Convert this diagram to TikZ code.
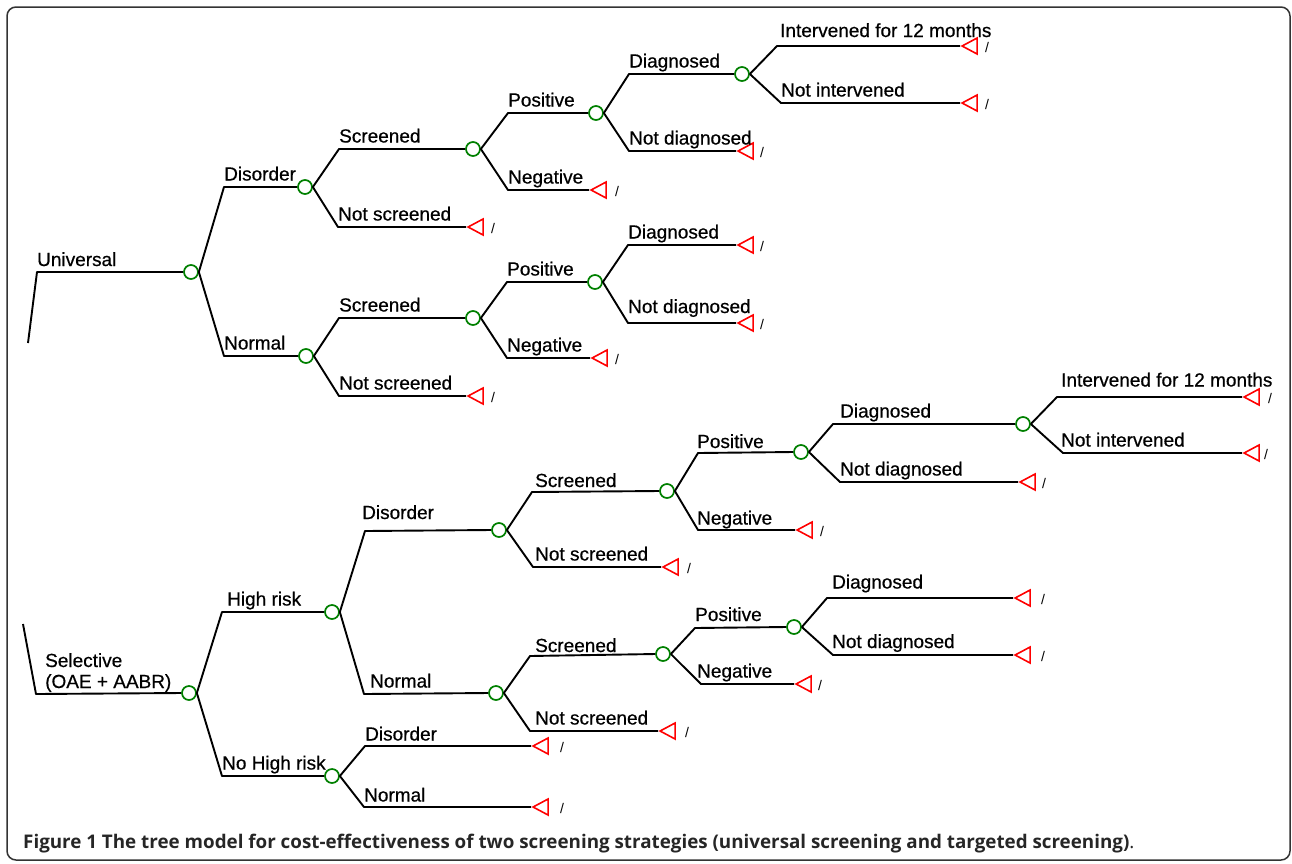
\documentclass[tikz,border=0pt]{standalone}
\usepackage{fontspec}
\setmainfont{Liberation Sans}
\newfontfamily\lblfont[FakeBold=0.6]{Liberation Sans}
\newfontfamily\capfont{Open Sans}
\usetikzlibrary{shapes.geometric}
\tikzset{
  chance/.style = {circle, draw=green!50!black, line width=1.7pt, inner sep=0pt, minimum size=14pt},
  terminal/.style = {isosceles triangle, isosceles triangle stretches, shape border rotate=180,
    draw=red, line width=1.6pt, inner sep=0pt, minimum width=16pt, minimum height=15pt, anchor=apex},
  branch/.style = {line width=1.9pt, line join=round},
  lbl/.style = {anchor=base west, inner sep=0pt, font=\lblfont\fontsize{19pt}{22pt}\selectfont},
  slash/.style = {inner sep=0pt, font=\fontsize{14pt}{15pt}\selectfont},
}

\begin{document}
\begin{tikzpicture}[x=1pt, y=-1pt]
\useasboundingbox (0,0) rectangle (1292,863);
\draw[rounded corners=9pt, line width=1.5pt, black!80] (7,7) rectangle (1290,860);

% universal strategy
\begin{scope}
  \coordinate (u0) at (28,343);
  \coordinate (u1) at (37,272);
  \node[chance] (U) at (191,272) {};
  \node[lbl] (lU) at (37,266) {Universal};
  \draw[branch] (u0) -- (u1) -- (U.west);

  % disorder / normal
  \node[chance] (UD) at (305,187) {};
  \node[chance] (UN) at (306,356) {};
  \draw[branch] (U.east) -- (224,187) -- (UD.west);
  \draw[branch] (U.east) -- (224,356) -- (UN.west);
  \node[lbl] (lUD) at (224,180.5) {Disorder};
  \node[lbl] (lUN) at (224,349.5) {Normal};

  % disorder -> screened / not screened
  \node[chance] (UDS) at (473,149) {};
  \node[terminal] (tUDn) at (466,227) {};
  \node[slash] (xUDn) at (493,228) {/};
  \draw[branch] (UD.east) -- (339,149) -- (UDS.west);
  \draw[branch] (UD.east) -- (338,227) -- (tUDn.apex);
  \node[lbl] (lUDS) at (339,142.5) {Screened};
  \node[lbl] (lUDn) at (338,220.5) {Not screened};

  \node[chance] (UDSP) at (596,113) {};
  \node[terminal] (tUDSn) at (589,190) {};
  \node[slash] (xUDSn) at (617,191) {/};
  \draw[branch] (UDS.east) -- (508,113) -- (UDSP.west);
  \draw[branch] (UDS.east) -- (508,190) -- (tUDSn.apex);
  \node[lbl] (lUDSP) at (508,106.5) {Positive};
  \node[lbl] (lUDSn) at (508,183.5) {Negative};

  \node[chance] (UDSPD) at (742,74) {};
  \node[terminal] (tUDSPn) at (736,151) {};
  \node[slash] (xUDSPn) at (762,152) {/};
  \draw[branch] (UDSP.east) -- (629,74) -- (UDSPD.west);
  \draw[branch] (UDSP.east) -- (629,151) -- (tUDSPn.apex);
  \node[lbl] (lUDSPD) at (629,67.5) {Diagnosed};
  \node[lbl] (lUDSPn) at (629,144.5) {Not diagnosed};

  \node[terminal] (tUI) at (960,46) {};
  \node[terminal] (tUNI) at (960,103) {};
  \node[slash] (xUI) at (987,47) {/};
  \node[slash] (xUNI) at (987,104) {/};
  \draw[branch] (UDSPD.east) -- (777,46) -- (tUI.apex);
  \draw[branch] (UDSPD.east) -- (781,103) -- (tUNI.apex);
  \node[lbl] (lUI) at (780,37) {Intervened for 12 months};
  \node[lbl] (lUNI) at (781,96.5) {Not intervened};

  % normal -> screened / not screened
  \node[chance] (UNS) at (473,318) {};
  \node[terminal] (tUNn) at (466,396) {};
  \node[slash] (xUNn) at (493,397) {/};
  \draw[branch] (UN.east) -- (339,318) -- (UNS.west);
  \draw[branch] (UN.east) -- (339,396) -- (tUNn.apex);
  \node[lbl] (lUNS) at (339,311.5) {Screened};
  \node[lbl] (lUNn) at (339,389.5) {Not screened};

  \node[chance] (UNSP) at (595,282) {};
  \node[terminal] (tUNSn) at (590,358) {};
  \node[slash] (xUNSn) at (617,359) {/};
  \draw[branch] (UNS.east) -- (507,282) -- (UNSP.west);
  \draw[branch] (UNS.east) -- (507,358) -- (tUNSn.apex);
  \node[lbl] (lUNSP) at (507,275.5) {Positive};
  \node[lbl] (lUNSn) at (507,351.5) {Negative};

  \node[terminal] (tUNSPd) at (736,245) {};
  \node[terminal] (tUNSPn) at (736,323) {};
  \node[slash] (xUNSPd) at (762,246) {/};
  \node[slash] (xUNSPn) at (762,324) {/};
  \draw[branch] (UNSP.east) -- (628,245) -- (tUNSPd.apex);
  \draw[branch] (UNSP.east) -- (628,323) -- (tUNSPn.apex);
  \node[lbl] (lUNSPd) at (628,238.5) {Diagnosed};
  \node[lbl] (lUNSPn) at (628,313) {Not diagnosed};
\end{scope}

% selective strategy
\begin{scope}
  \coordinate (s0) at (23,624);
  \coordinate (s1) at (36,694);
  \node[chance] (S) at (189,693) {};
  \node[lbl] (lS) at (45,667) {Selective};
  \node[lbl] (lS2) at (45,688) {(OAE + AABR)};
  \draw[branch] (s0) -- (s1) -- (S.west);

  % high risk / no high risk
  \node[chance] (SH) at (332,612) {};
  \node[chance] (SN) at (332,776) {};
  \draw[branch] (S.east) -- (222,612) -- (SH.west);
  \draw[branch] (S.east) -- (222,776) -- (SN.west);
  \node[lbl] (lSH) at (227,605.5) {High risk};
  \node[lbl] (lSN) at (222,769.5) {No High risk};

  % high risk -> disorder / normal
  \node[chance] (SHD) at (499,530) {};
  \node[chance] (SHN) at (496,693) {};
  \draw[branch] (SH.east) -- (365,531) -- (SHD.west);
  \draw[branch] (SH.east) -- (364,694) -- (SHN.west);
  \node[lbl] (lSHD) at (362,519) {Disorder};
  \node[lbl] (lSHN) at (370,687.5) {Normal};

  \node[chance] (SHDS) at (667,491) {};
  \node[terminal] (tSHDn) at (661,567) {};
  \node[slash] (xSHDn) at (689,568) {/};
  \draw[branch] (SHD.east) -- (532,492) -- (SHDS.west);
  \draw[branch] (SHD.east) -- (533,567) -- (tSHDn.apex);
  \node[lbl] (lSHDS) at (535,487) {Screened};
  \node[lbl] (lSHDn) at (535,560.5) {Not screened};

  \node[chance] (SHDSP) at (801,452) {};
  \node[terminal] (tSHDSn) at (795,530) {};
  \node[slash] (xSHDSn) at (822,531) {/};
  \draw[branch] (SHDS.east) -- (698,453) -- (SHDSP.west);
  \draw[branch] (SHDS.east) -- (698,530) -- (tSHDSn.apex);
  \node[lbl] (lSHDSP) at (697,448) {Positive};
  \node[lbl] (lSHDSn) at (697,524.5) {Negative};

  \node[chance] (SHDSPD) at (1023,424) {};
  \node[terminal] (tSHDSPn) at (1018,482) {};
  \node[slash] (xSHDSPn) at (1044,483) {/};
  \draw[branch] (SHDSP.east) -- (833,424) -- (SHDSPD.west);
  \draw[branch] (SHDSP.east) -- (840,482) -- (tSHDSPn.apex);
  \node[lbl] (lSHDSPD) at (840,417.5) {Diagnosed};
  \node[lbl] (lSHDSPn) at (840,475.5) {Not diagnosed};

  \node[terminal] (tSI) at (1242,397) {};
  \node[terminal] (tSNI) at (1242,453) {};
  \node[slash] (xSI) at (1270,398) {/};
  \node[slash] (xSNI) at (1266,454) {/};
  \draw[branch] (SHDSPD.east) -- (1057,397) -- (tSI.apex);
  \draw[branch] (SHDSPD.east) -- (1063,453) -- (tSNI.apex);
  \node[lbl] (lSI) at (1061,386.5) {Intervened for 12 months};
  \node[lbl] (lSNI) at (1061,446.5) {Not intervened};

  % high risk -> normal -> screened / not screened
  \node[chance] (SHNS) at (663,654) {};
  \node[terminal] (tSHNn) at (658,731) {};
  \node[slash] (xSHNn) at (687,732) {/};
  \draw[branch] (SHN.east) -- (530,656) -- (SHNS.west);
  \draw[branch] (SHN.east) -- (530,731) -- (tSHNn.apex);
  \node[lbl] (lSHNS) at (535,652) {Screened};
  \node[lbl] (lSHNn) at (535,724.5) {Not screened};

  \node[chance] (SHNSP) at (794,627) {};
  \node[terminal] (tSHNSn) at (794,684) {};
  \node[slash] (xSHNSn) at (820,685) {/};
  \draw[branch] (SHNS.east) -- (695,628) -- (SHNSP.west);
  \draw[branch] (SHNS.east) -- (701,684) -- (tSHNSn.apex);
  \node[lbl] (lSHNSP) at (695,621) {Positive};
  \node[lbl] (lSHNSn) at (697,677.5) {Negative};

  \node[terminal] (tSHNSPd) at (1013,598) {};
  \node[terminal] (tSHNSPn) at (1013,655) {};
  \node[slash] (xSHNSPd) at (1043,599) {/};
  \node[slash] (xSHNSPn) at (1043,656) {/};
  \draw[branch] (SHNSP.east) -- (827,598) -- (tSHNSPd.apex);
  \draw[branch] (SHNSP.east) -- (833,655) -- (tSHNSPn.apex);
  \node[lbl] (lSHNSPd) at (832,588.5) {Diagnosed};
  \node[lbl] (lSHNSPn) at (832,648) {Not diagnosed};

  % no high risk -> disorder / normal
  \node[terminal] (tSNd) at (531,746) {};
  \node[terminal] (tSNn) at (531,807) {};
  \node[slash] (xSNd) at (562,747) {/};
  \node[slash] (xSNn) at (562,808) {/};
  \draw[branch] (SN.east) -- (365,746) -- (tSNd.apex);
  \draw[branch] (SN.east) -- (364,807) -- (tSNn.apex);
  \node[lbl] (lSNd) at (365,740.5) {Disorder};
  \node[lbl] (lSNn) at (364,801.5) {Normal};
\end{scope}

\node[anchor=base west, inner sep=0pt, text=black!85, font=\capfont\fontsize{18.8pt}{21pt}\selectfont] (cap) at (23,848)
  {\textbf{Figure 1 The tree model for cost-effectiveness of two screening strategies (universal screening and targeted screening)}.};
\end{tikzpicture}
\end{document}
